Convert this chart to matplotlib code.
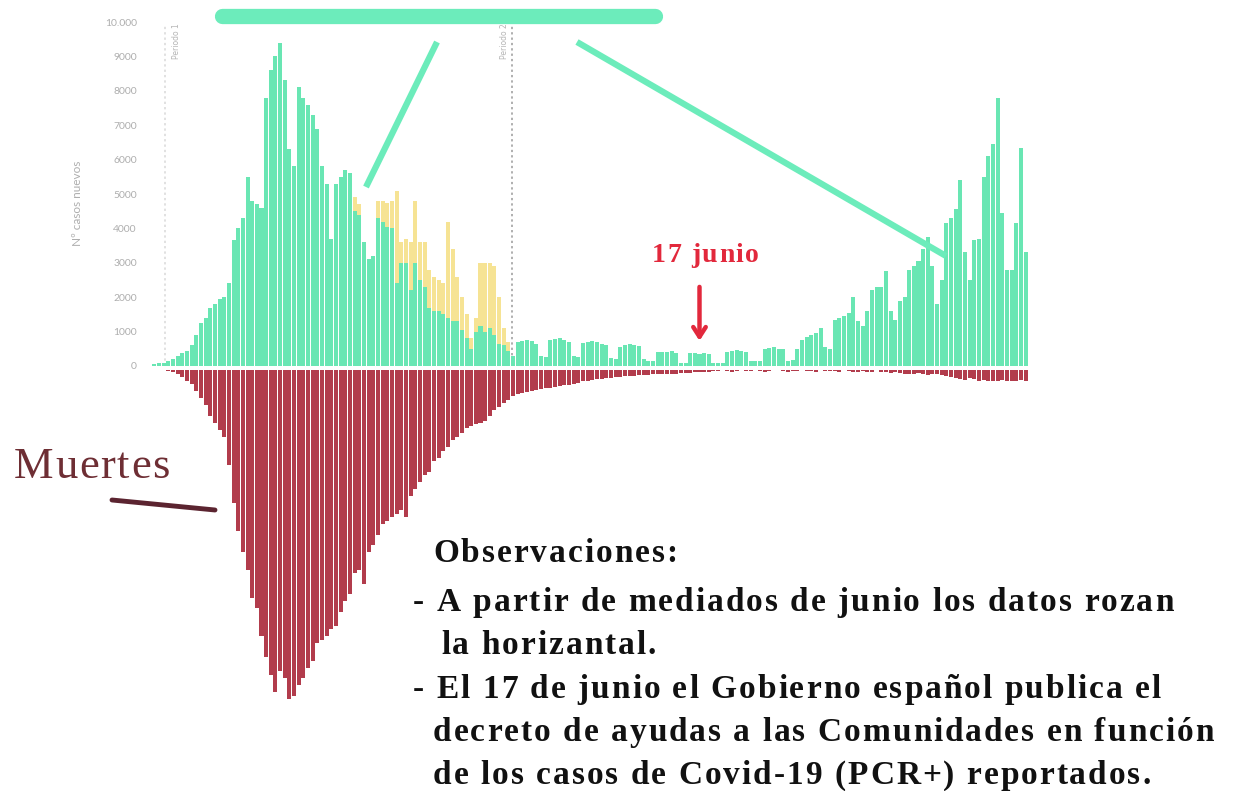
import matplotlib
matplotlib.use("Agg")
import matplotlib.pyplot as plt
from matplotlib.lines import Line2D
from matplotlib.font_manager import FontProperties, findfont
from matplotlib.ft2font import FT2Font
import numpy as np

# ---------------- data ----------------
casos_verde = [
    50, 80, 100, 150, 200, 300, 380, 450, 600, 900,
    1250, 1400, 1700, 1800, 1950, 2000, 2400, 3650, 4000, 4300,
    5500, 4800, 4700, 4600, 7800, 8600, 9000, 9400, 8300, 6300,
    5800, 8100, 7800, 7600, 7300, 6900, 5800, 5300, 3700, 5300,
    5500, 5700, 5600, 4500, 4400, 3600, 3100, 3200, 4300, 4200,
    4050, 4000, 2400, 3000, 3000, 2200, 3000, 2500, 2300, 1700,
    1600, 1600, 1500, 1400, 1300, 1300, 1050, 800, 500, 1000,
    1150, 1000, 1100, 900, 650, 600, 450, 300, 700, 720,
    750, 730, 650, 280, 260, 750, 780, 800, 760, 700,
    280, 250, 680, 700, 720, 700, 650, 600, 220, 200,
    550, 600, 650, 620, 580, 200, 150, 150, 400, 420,
    400, 430, 380, 100, 100, 370, 380, 360, 390, 350,
    100, 90, 100, 420, 450, 460, 440, 420, 150, 150,
    150, 500, 520, 540, 500, 480, 150, 180, 500, 750,
    850, 900, 950, 1100, 550, 500, 1350, 1400, 1450, 1550,
    2000, 1300, 1150, 1600, 2200, 2300, 2300, 2750, 1600, 1350,
    1900, 2000, 2800, 2900, 3050, 3400, 3750, 2900, 1800, 2500,
    4150, 4300, 4550, 5400, 3300, 2500, 3650, 3700, 5500, 6100,
    6450, 7800, 4450, 2800, 2800, 4150, 6350, 3300,
]

casos_amarillo = [0] * 43 + [
    400, 300, 0, 0, 0, 500, 600, 700, 800, 2700,
    600, 700, 1400, 1800, 1100, 1300, 1100, 1000, 900, 900,
    2800, 2100, 1300, 950, 700, 300, 400, 1850, 2000, 1900,
    2000, 1350, 500, 250,
] + [0] * 111

muertes = [
    0, 0, 0, 2, 5, 10, 20, 30, 40, 60,
    80, 100, 130, 150, 170, 190, 270, 380, 460, 520,
    570, 650, 680, 760, 820, 870, 920, 860, 880, 940,
    930, 900, 880, 850, 830, 780, 770, 760, 740, 730,
    690, 660, 640, 580, 570, 610, 520, 500, 470, 440,
    430, 420, 410, 400, 420, 360, 340, 320, 300, 290,
    260, 250, 230, 220, 200, 190, 180, 165, 160, 155,
    150, 145, 130, 115, 105, 95, 85, 75, 68, 65,
    62, 60, 58, 55, 52, 50, 48, 45, 43, 42,
    40, 38, 32, 30, 28, 27, 25, 24, 22, 21,
    20, 18, 17, 16, 15, 14, 13, 12, 12, 11,
    11, 10, 10, 9, 8, 8, 7, 6, 5, 5,
    4, 3, 0, 4, 5, 3, 0, 4, 4, 0,
    3, 5, 4, 0, 0, 4, 5, 3, 4, 0,
    3, 4, 5, 0, 3, 4, 4, 5, 0, 3,
    5, 6, 4, 5, 6, 0, 5, 6, 8, 7,
    8, 10, 12, 10, 8, 12, 14, 10, 12, 15,
    18, 20, 22, 25, 28, 22, 25, 30, 28, 30,
    32, 30, 28, 30, 32, 30, 28, 30,
]

yticks = [0, 1000, 2000, 3000, 4000, 5000, 6000, 7000, 8000, 9000, 10000]
ytick_labels = ["0", "1000", "2000", "3000", "4000", "5000", "6000",
                "7000", "8000", "9000", "10.000"]
periodo_pos = [2.3, 76.8]
periodo_labels = ["Periodo 1", "Periodo 2"]
dia_17_junio = 117

observaciones = [
    "Observaciones:",
    "- A partir de mediados de junio los datos rozan",
    "la horizantal.",
    "- El 17 de junio el Gobierno español publica el",
    "decreto de ayudas a las Comunidades en función",
    "de los casos de Covid-19 (PCR+) reportados.",
]

# ---------------- style ----------------
GREEN = "#69e6b3"
HILITE = "#6cecbb"
YELLOW = "#f6e394"
DEATH = "#b23c4c"
GREY = "#aeaeae"
SERIF = ["Liberation Serif", "DejaVu Serif"]

W, H = 1234, 791
DPI = 100
fig = plt.figure(figsize=(W / DPI, H / DPI), dpi=DPI)
fig.patch.set_facecolor("white")


def fx(x):
    return x / W


def fy(y):
    return 1 - y / H


def spaced_text(px, py, s, size, spacing, weight="normal", color="black"):
    """Draw text char by char with extra letter spacing (pixels)."""
    fp = FontProperties(family=SERIF, weight=weight, size=size)
    font = FT2Font(findfont(fp))
    font.set_size(size, DPI)
    cx = px
    for ch in s:
        fig.text(fx(cx), fy(py), ch, ha="left", va="baseline", fontsize=size,
                 fontweight=weight, family=SERIF, color=color)
        g = font.load_char(ord(ch))
        cx += g.linearHoriAdvance / 65536.0 + spacing


x0, x1 = 152, 1028
ax = fig.add_axes([fx(x0), fy(366), fx(x1) - fx(x0), fy(22) - fy(366)])
axd = fig.add_axes([fx(x0), fy(720), fx(x1) - fx(x0), fy(370) - fy(720)])

n = len(casos_verde)
x = np.arange(n)
ax.bar(x, casos_verde, width=0.86, color=GREEN, linewidth=0)
ax.bar(x, casos_amarillo, bottom=casos_verde, width=0.86, color=YELLOW, linewidth=0)
ax.set_xlim(-0.5, n - 0.5)
ax.set_ylim(0, 10000)
for s in ax.spines.values():
    s.set_visible(False)
ax.set_xticks([])
ax.set_yticks(yticks)
ax.set_yticklabels(ytick_labels, fontsize=7.5, color=GREY, family="Lato")
ax.tick_params(axis="y", length=0, pad=11)
ax.patch.set_alpha(0)

for pos, col in zip(periodo_pos, ["#d8d8d8", "#9a9a9a"]):
    ax.plot([pos, pos], [0, 9900], ls=(0, (1.5, 2)), lw=1.1, color=col, zorder=0)
ax.text(periodo_pos[0] + 2.5, 9950, periodo_labels[0], rotation=90, va="top",
        ha="center", fontsize=5.5, color="#b5b5b5")
ax.text(periodo_pos[1] - 1.6, 9950, periodo_labels[1], rotation=90, va="top",
        ha="center", fontsize=5.5, color="#b5b5b5")

axd.bar(x, muertes, width=0.86, color=DEATH, linewidth=0)
axd.set_xlim(-0.5, n - 0.5)
axd.set_ylim(1000, 0)
axd.axis("off")

fig.text(fx(78), fy(203), "Nº casos nuevos", rotation=90, ha="center", va="center",
         fontsize=8.5, color=GREY, family="Lato")

# highlight stroke and connector lines
fig.add_artist(Line2D([fx(222), fx(655)], [fy(16), fy(16)], lw=11, color=HILITE,
                      solid_capstyle="round"))
fig.add_artist(Line2D([fx(437), fx(366)], [fy(42), fy(187)], lw=4.5, color=HILITE,
                      solid_capstyle="butt"))
fig.add_artist(Line2D([fx(577), fx(946)], [fy(42), fy(256)], lw=4.5, color=HILITE,
                      solid_capstyle="butt"))

# 17 junio
ax.annotate("", xy=(dia_17_junio, 650), xytext=(dia_17_junio, 2380),
            arrowprops=dict(arrowstyle="->,head_length=0.7,head_width=0.45",
                            lw=3.2, color="#e2283c"))
spaced_text(652, 262, "17 junio", 20, 1.5, weight="bold", color="#e2283c")

# Muertes
spaced_text(14, 478, "Muertes", 32, 1.6, color="#6e2e34")
fig.add_artist(Line2D([fx(112), fx(215)], [fy(500), fy(510)], lw=3.5, color="#5b2430",
                      solid_capstyle="round"))

# Observaciones
obs_pos = [(433, 562), (413, 611), (441, 654), (413, 698), (433, 741), (433, 784)]
for (px, py), t in zip(obs_pos, observaciones):
    spaced_text(px, py, t, 24, 2.0, weight="bold", color="#111111")

fig.savefig("out.png", dpi=DPI)
